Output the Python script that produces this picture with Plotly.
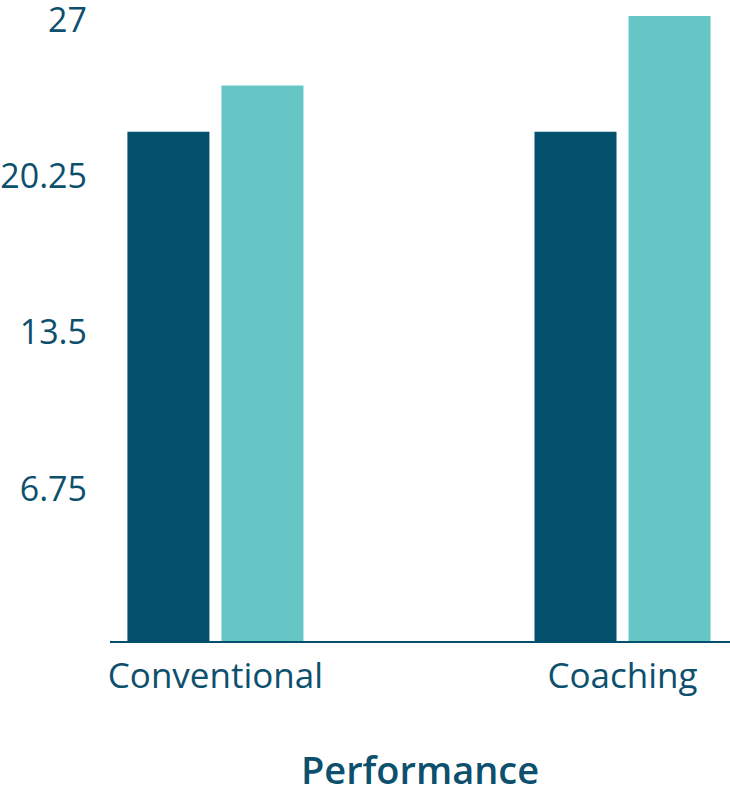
import plotly.graph_objects as go

# data
categories = ["Conventional", "Coaching"]
series_a = [22, 22]
series_b = [24, 27]
y_ticks = [6.75, 13.5, 20.25, 27]
y_tick_labels = ["6.75", "13.5", "20.25", "27"]

DARK = "#02506c"
TEAL = "#66c6c6"
TEXT = "#0d506d"
FONT = "Open Sans"

fig = go.Figure()
fig.add_trace(go.Bar(x=categories, y=series_a, marker=dict(color=DARK, line=dict(width=0)), name="A"))
fig.add_trace(go.Bar(x=categories, y=series_b, marker=dict(color=TEAL, line=dict(width=0)), name="B"))

fig.update_layout(
    width=730,
    height=795,
    paper_bgcolor="white",
    plot_bgcolor="white",
    barmode="group",
    bargap=0.538,
    bargroupgap=0.128,
    showlegend=False,
    font=dict(family=FONT, color=TEXT, size=34),
    margin=dict(l=110, r=0, t=16, b=154, autoexpand=False),
)
fig.update_xaxes(
    range=[-0.259, 1.264],
    showgrid=False,
    showline=True,
    linecolor=DARK,
    linewidth=2,
    ticks="",
    tickfont=dict(size=35, color=TEXT),
    ticklabelstandoff=3,
    automargin=False,
    title=dict(text="Performance", font=dict(size=38, color=TEXT, weight=600), standoff=66),
)
fig.update_yaxes(
    range=[0, 27],
    tickvals=y_ticks,
    ticktext=y_tick_labels,
    showgrid=False,
    zeroline=False,
    showline=False,
    ticks="",
    tickfont=dict(size=34, color=TEXT),
    ticklabelstandoff=22,
    ticklabelshift=4,
    ticklabeloverflow="allow",
    automargin=False,
)

# drop the default 8px page margin so the chart sits flush in the window
fig.write_html(
    "out.html",
    config={"displayModeBar": False},
    post_script="document.body.style.margin='0';",
)
